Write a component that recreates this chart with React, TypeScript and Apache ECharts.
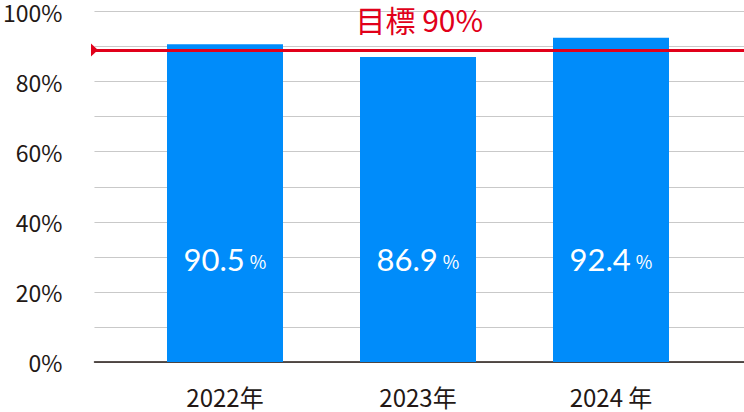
import React, { useEffect, useRef } from "react";
import * as echarts from "echarts";

const categories = ["2022年", "2023年", "2024 年"];
const values = [90.5, 86.9, 92.4];
const targetValue = 89;
const targetLabel = "目標 90%";
const yTicks = [0, 20, 40, 60, 80, 100];

const RED = "#e1001a";
const BLUE = "#008cfa";
const TEXT = "#231815";
const CJK = "'Noto Sans CJK JP', 'Noto Sans', sans-serif";

export default function App() {
  const ref = useRef<HTMLDivElement>(null);
  useEffect(() => {
    if (!ref.current) return;
    const chart = echarts.init(ref.current, undefined, { renderer: "svg" });
    chart.setOption({
      animation: false,
      grid: [
        { left: 91, right: 0, top: 11, bottom: 50 },
        { left: 128.5, width: 579, top: 11, bottom: 50 },
      ],
      xAxis: [
        {
          gridIndex: 0,
          type: "value",
          min: 0,
          max: 1,
          axisLine: { show: true, onZero: false, lineStyle: { color: TEXT, width: 1.5 } },
          axisTick: { show: false },
          axisLabel: { show: false },
          splitLine: { show: false },
        },
        {
          gridIndex: 1,
          type: "category",
          data: categories,
          axisLine: { show: false },
          axisTick: { show: false },
          axisLabel: { fontSize: 24, color: TEXT, fontFamily: CJK, margin: 22, lineHeight: 24 },
        },
      ],
      yAxis: [
        {
          gridIndex: 0,
          type: "value",
          min: 0,
          max: 100,
          interval: 10,
          axisLine: { show: false },
          axisTick: { show: false },
          axisLabel: {
            fontSize: 23,
            lineHeight: 22,
            color: TEXT,
            fontFamily: CJK,
            margin: 32,
            formatter: (v: number) => (yTicks.includes(v) ? v + "%" : ""),
          },
          splitLine: { lineStyle: { color: "#c9c9c9", width: 1 } },
        },
        { gridIndex: 1, type: "value", min: 0, max: 100, show: false },
      ],
      series: [
        {
          type: "bar",
          xAxisIndex: 1,
          yAxisIndex: 1,
          data: values,
          barWidth: 116,
          itemStyle: { color: BLUE },
          label: {
            show: true,
            position: "insideBottom",
            distance: 88,
            formatter: (p: any) => `{a|${p.value}}{b|%}`,
            rich: {
              a: { fontSize: 31, color: "#fff", fontFamily: "Lato, 'Noto Sans', sans-serif" },
              b: { fontSize: 18, color: "#fff", fontFamily: CJK, padding: [4, 0, 0, 5] },
            },
          },
          z: 2,
        },
        {
          type: "line",
          xAxisIndex: 0,
          yAxisIndex: 0,
          data: [],
          z: 5,
          markLine: {
            silent: true,
            symbol: ["triangle", "none"],
            symbolSize: [13, 7],
            symbolRotate: -90,
            lineStyle: { color: RED, width: 3, type: "solid" },
            label: {
              show: true,
              position: "middle",
              distance: 16,
              formatter: targetLabel,
              color: RED,
              fontSize: 30,
              lineHeight: 30,
              fontFamily: CJK,
            },
            data: [{ yAxis: targetValue }],
          },
        },
      ],
    });
    return () => chart.dispose();
  }, []);
  return <div ref={ref} style={{ width: 744, height: 412, position: "absolute", left: 0, top: 0 }} />;
}
